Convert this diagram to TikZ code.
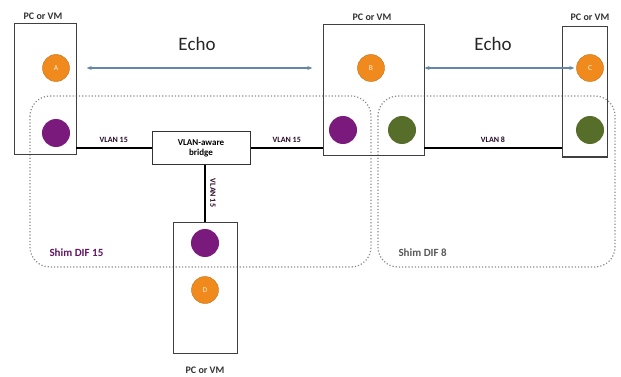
\documentclass[tikz,border=0pt]{standalone}
\usepackage{fontspec}
\setmainfont{Carlito}
\usetikzlibrary{arrows.meta}
\definecolor{orng}{HTML}{F08A1C}
\definecolor{purp}{HTML}{7A1A7C}
\definecolor{olive}{HTML}{566E2A}
\definecolor{echob}{HTML}{6487A8}
\definecolor{dotg}{HTML}{8A8A8A}
\begin{document}
\begin{tikzpicture}[x=1pt,y=-1pt,
  hostbox/.style={draw=black!75,line width=1pt},
  hostlbl/.style={font=\bfseries\fontsize{10}{11}\selectfont,text=black!80},
  ocirc/.style={circle,fill=orng,draw=orng!80!black,line width=0.4pt,minimum size=27pt,inner sep=0pt,text=white!90!orng,font=\fontsize{7.5}{8}\selectfont},
  pcirc/.style={circle,fill=purp,minimum size=28pt,inner sep=0pt},
  gcirc/.style={circle,fill=olive,minimum size=28pt,inner sep=0pt},
  vlanlink/.style={draw=black,line width=1.8pt},
  vlanlbl/.style={font=\bfseries\fontsize{8}{9}\selectfont,text=black!70!purp},
  difreg/.style={draw=dotg,line width=1.2pt,dotted,rounded corners=20pt},
  echoarr/.style={draw=echob,line width=1.2pt,{Stealth[length=5pt,width=4pt]}-{Stealth[length=5pt,width=4pt]}},
  echolbl/.style={font=\fontsize{19}{21}\selectfont,text=black!85},
  diflbl/.style={font=\bfseries\fontsize{11}{12}\selectfont,anchor=west}
]
\useasboundingbox (0,0) rectangle (621,377);
% DIF regions
\draw[difreg] (30,96) rectangle (371,267);
\draw[difreg] (378,96) rectangle (615,267);
% host boxes
\node[hostbox,minimum width=62pt,minimum height=131pt,inner sep=0pt] (boxA) at (45,89.5) {};
\node[hostbox,minimum width=101pt,minimum height=131pt,inner sep=0pt] (boxB) at (373.5,90.5) {};
\node[hostbox,minimum width=45pt,minimum height=130pt,inner sep=0pt] (boxC) at (584.5,92) {};
\node[hostbox,minimum width=64pt,minimum height=131pt,inner sep=0pt] (boxD) at (205,287.5) {};
\node[hostlbl] (lA) at (43,16) {PC or VM};
\node[hostlbl] (lB) at (372,17) {PC or VM};
\node[hostlbl] (lC) at (590,17) {PC or VM};
\node[hostlbl] (lD) at (205,370) {PC or VM};
% bridge
\node[draw=black!80,line width=1pt,fill=white,minimum width=98pt,minimum height=32pt,inner sep=1pt,align=center,font=\bfseries\fontsize{9}{10}\selectfont] (br) at (201,148) {VLAN-aware\\bridge};
% links
\coordinate (aR) at (76,148);
\coordinate (bL) at (323,148);
\coordinate (bR) at (424,148);
\coordinate (cL) at (562,148);
\draw[vlanlink] (aR) -- (br.west) node[midway,above=1pt,vlanlbl] {VLAN 15};
\draw[vlanlink] (br.east) -- (bL) node[midway,above=1pt,vlanlbl] {VLAN 15};
\draw[vlanlink] (bR) -- (cL) node[midway,above=1pt,vlanlbl] {VLAN 8};
\draw[vlanlink] (boxD.north |- br.south) -- (boxD.north) node[midway,right=1pt,vlanlbl,rotate=-90,anchor=south] {VLAN 15};
% circles
\node[ocirc] (A) at (56,68) {A};
\node[pcirc] (pA) at (56,133) {};
\node[ocirc] (B) at (371,68) {B};
\node[pcirc] (pB) at (343,130) {};
\node[gcirc] (gB) at (402,130) {};
\node[ocirc] (C) at (590,68) {C};
\node[gcirc] (gC) at (590,130) {};
\node[pcirc] (pD) at (205,243) {};
\node[ocirc] (D) at (205,290) {D};
% echo
\draw[echoarr] (A.east) ++(17,0) coordinate (e1) -- ([xshift=-45pt]B.west) coordinate (e2);
\node[echolbl] (echo1) at (197,44) {Echo};
\draw[echoarr] (boxB.east |- B) -- ([xshift=-2pt]C.west);
\node[echolbl] (echo2) at (493,44) {Echo};
% DIF labels
\node[diflbl,text=purp!80!black] (d15) at (46,253) {Shim DIF 15};
\node[diflbl,text=black!65] (d8) at (395,253) {Shim DIF 8};
\end{tikzpicture}
\end{document}
